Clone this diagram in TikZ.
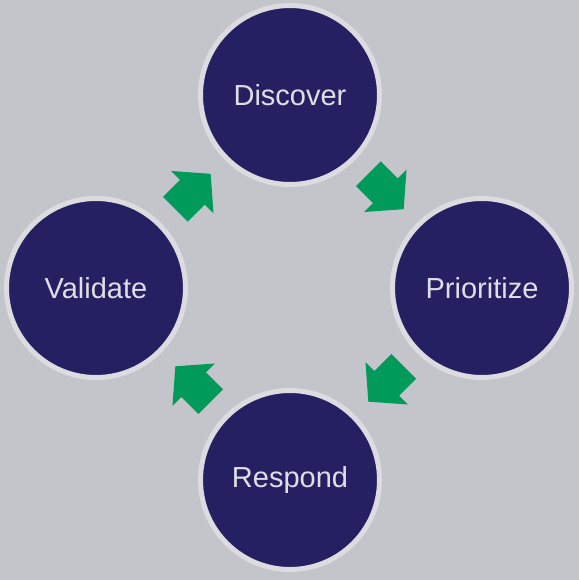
\documentclass[tikz,border=0pt]{standalone}
\usepackage{fontspec}
\setmainfont{Liberation Sans}
\usetikzlibrary{calc}
\definecolor{bgcol}{HTML}{C4C4CB}
\definecolor{navy}{HTML}{252061}
\definecolor{ringcol}{HTML}{DCDCE0}
\definecolor{txtcol}{HTML}{DEDEE6}
\definecolor{arrowgreen}{HTML}{009A5A}
\tikzset{
  stage/.style={circle, fill=navy, draw=ringcol, line width=5pt, minimum size=179pt, inner sep=0pt,
    text=txtcol, font=\fontsize{29}{33}\selectfont},
  cyclearrow/.pic={
    \fill[arrowgreen] (25,0) -- (-1,30) -- (-1,17.5) -- (-25,17.5) -- (-25,-17.5) -- (-1,-17.5) -- (-1,-30) -- cycle;
  }
}
\begin{document}
\begin{tikzpicture}[x=1pt,y=-1pt]
\fill[bgcol] (0,0) rectangle (579,580);
\useasboundingbox (0,0) rectangle (579,580);
\node[stage] (disc) at (290,95) {Discover};
\node[stage] (prio) at (482,288) {Prioritize};
\node[stage] (resp) at (290,480) {Respond};
\node[stage] (valid) at (96,288) {Validate};
\pic[rotate=45] at ($(valid)!0.5!(disc)$) {cyclearrow};
\pic[rotate=-45] at ($(disc)!0.5!(prio)$) {cyclearrow};
\pic[rotate=-135] at ($(prio)!0.5!(resp)$) {cyclearrow};
\pic[rotate=135] at ($(resp)!0.5!(valid)$) {cyclearrow};
\end{tikzpicture}
\end{document}
